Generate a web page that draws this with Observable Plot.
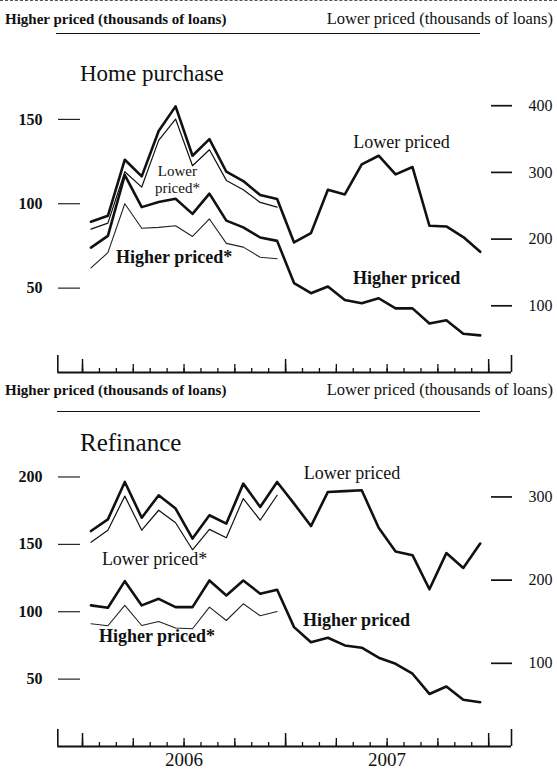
<!DOCTYPE html>
<html><head><meta charset="utf-8">
<script src="https://cdn.jsdelivr.net/npm/d3@7"></script>
<script src="https://cdn.jsdelivr.net/npm/@observablehq/plot@0.6"></script>
<style>
body{margin:0;background:#fff;}
#chart{position:relative;width:557px;height:769px;overflow:hidden;font-family:"Liberation Serif","Times New Roman",Times,serif;color:#111;}
.t{position:absolute;white-space:nowrap;line-height:1;}
.rule{position:absolute;height:0;border-top:1.5px solid #111;}
.p{position:absolute;left:0;}
</style></head><body>
<div id="chart">
  <div class="rule" style="top:0;left:0;width:557px;border-top:1px dashed #555"></div>
  <div class="t" style="top:12.4px;left:5px;font-size:15px;font-weight:bold">Higher priced (thousands of loans)</div>
  <div class="t" style="top:11.2px;right:4px;font-size:16.5px">Lower priced (thousands of loans)</div>
  <div class="rule" style="top:33px;left:56px;width:424px"></div>
  <div class="t" style="top:61.7px;left:80px;font-size:23px">Home purchase</div>
  <div class="p" id="p1" style="top:88px"></div>
  <div class="t" style="top:383.4px;left:5px;font-size:15px;font-weight:bold">Higher priced (thousands of loans)</div>
  <div class="t" style="top:382.2px;right:4px;font-size:16.5px">Lower priced (thousands of loans)</div>
  <div class="rule" style="top:411px;left:57px;width:423px"></div>
  <div class="t" style="top:430px;left:80px;font-size:25px">Refinance</div>
  <div class="p" id="p2" style="top:460px"></div>
</div>
<script>
// ---- data (thousands of loans), monthly Jan 2006 – Dec 2007 ----
const months = ["2006-01","2006-02","2006-03","2006-04","2006-05","2006-06","2006-07","2006-08","2006-09","2006-10","2006-11","2006-12",
                "2007-01","2007-02","2007-03","2007-04","2007-05","2007-06","2007-07","2007-08","2007-09","2007-10","2007-11","2007-12"];
const years = ["2006", "2007"];

// Home purchase
const hpLower      = [226,235,319,294,362,399,325,350,301,287,266,260,195,209,274,267,312,325,297,308,220,219,203,181];
const hpLowerStar  = [215,224,301,278,348,380,310,334,288,274,255,248];
const hpHigher     = [74,81,117,98,101,103,94,106,90,86,80,78,53,47,51,43,41,44,38,38,29,31,23,22];
const hpHigherStar = [62,71,100,85.5,86,87,80.6,91,76.5,74.3,68.3,67.4];

// Refinance
const rfLower      = [259,273,318,275,302,286,250,278,268,316,288,318,292,265,306,307,308,263,234.5,230,189,232.5,214.6,244];
const rfLowerStar  = [245.6,260,301,260,284,269,236.5,261,251,298,272,302];
const rfHigher     = [104.7,103,122.7,104.7,109.6,103.4,103.4,123.2,112.1,123.2,113.4,116.3,88.6,77.4,80.7,75,73.3,65.9,61.4,54,39,44.5,34.7,32.9];
const rfHigherStar = [91.1,89.6,104.7,89.8,92.8,87.9,87.4,103.4,93.5,105.9,97,100.2];

// axis tick values
const hpLeftTicks = [50, 100, 150];
const hpRightTicks = [100, 200, 300, 400];
const rfLeftTicks = [50, 100, 150, 200];
const rfRightTicks = [100, 200, 300];

// ---- chart ----
const FONT = '"Liberation Serif","Times New Roman",Times,serif';
const X0 = -1.46, X1 = 25.35;
const monthBounds = d3.range(0, months.length + 1);
const quarterBounds = monthBounds.filter(m => m % 3 === 0);
const yearBounds = monthBounds.filter(m => m % 12 === 0);
const yearMid = years.map((y, i) => i * 12 + 6);

function panel(o) {
  const k = o.k;
  const xi = (d, i) => i + 0.5;
  const marks = [
    Plot.ruleY([0], {x1: X0, x2: X1, strokeWidth: 1.8, stroke: "#111"}),
    Plot.axisX(monthBounds, {tickSize: -4, tickFormat: () => "", strokeWidth: 1.3, label: null}),
    Plot.axisX(quarterBounds, {tickSize: -8, tickFormat: () => "", strokeWidth: 1.3, label: null}),
    Plot.axisX(yearBounds, {tickSize: -13, tickFormat: () => "", strokeWidth: 1.5, label: null}),
    Plot.axisX([X0, X1], {tickSize: -17, tickFormat: () => "", strokeWidth: 1.6, label: null}),
    Plot.axisY(o.leftTicks, {anchor: "left", tickSize: 22, tickPadding: 16, fontWeight: "bold", fontSize: 16, strokeWidth: 1.1, label: null}),
    Plot.axisY(o.rightTicks.map(r => r / k), {anchor: "right", tickSize: 21, tickPadding: 17, tickFormat: d => Math.round(d * k), fontSize: 16, strokeWidth: 1.7, label: null}),
    Plot.line(o.lower, {x: xi, y: d => d / k, strokeWidth: 2.6, stroke: "#111"}),
    Plot.line(o.lowerStar, {x: xi, y: d => d / k, strokeWidth: 1.2, stroke: "#111"}),
    Plot.line(o.higher, {x: xi, y: d => d, strokeWidth: 2.6, stroke: "#111"}),
    Plot.line(o.higherStar, {x: xi, y: d => d, strokeWidth: 1.1, stroke: "#222"}),
    Plot.text(o.labelsReg, {x: "x", y: "y", text: "text", fontSize: "fs", lineHeight: 1.15, fill: "#111"}),
    Plot.text(o.labelsBold, {x: "x", y: "y", text: "text", fontSize: "fs", fontWeight: "bold", fill: "#111"})
  ];
  if (o.years) marks.push(Plot.axisX(yearMid, {tickSize: 0, tickPadding: 6, tickFormat: d => years[(d - 6) / 12], fontSize: 19, label: null}));
  return Plot.plot({
    width: 557, height: o.height,
    marginLeft: 80, marginRight: 67, marginTop: o.marginTop, marginBottom: o.marginBottom,
    style: {fontFamily: FONT, fontSize: "16px", color: "#111", background: "transparent", overflow: "visible"},
    x: {type: "linear", domain: [X0, X1], range: [57.3, 511], axis: null},
    y: {type: "linear", domain: [0, o.yMax], axis: null},
    marks
  });
}

document.getElementById("p1").append(panel({
  height: 295, marginTop: 14, marginBottom: 11, yMax: 160, k: 2.53,
  leftTicks: hpLeftTicks, rightTicks: hpRightTicks,
  lower: hpLower, lowerStar: hpLowerStar, higher: hpHigher, higherStar: hpHigherStar,
  labelsReg: [
    {text: "Lower\npriced*", x: 5.61, y: 114.5, fs: 15},
    {text: "Lower priced", x: 18.85, y: 136.7, fs: 18}
  ],
  labelsBold: [
    {text: "Higher priced*", x: 5.41, y: 68.6, fs: 18},
    {text: "Higher priced", x: 19.15, y: 55.6, fs: 18}
  ]
}));

document.getElementById("p2").append(panel({
  height: 309, marginTop: 3, marginBottom: 23, yMax: 210, k: 1.62,
  leftTicks: rfLeftTicks, rightTicks: rfRightTicks,
  lower: rfLower, lowerStar: rfLowerStar, higher: rfHigher, higherStar: rfHigherStar,
  labelsReg: [
    {text: "Lower priced", x: 15.93, y: 203.2, fs: 18},
    {text: "Lower priced*", x: 4.26, y: 139.9, fs: 18}
  ],
  labelsBold: [
    {text: "Higher priced", x: 16.19, y: 93.4, fs: 18},
    {text: "Higher priced*", x: 4.40, y: 81.7, fs: 18}
  ],
  years: true
}));
</script>
</body></html>
